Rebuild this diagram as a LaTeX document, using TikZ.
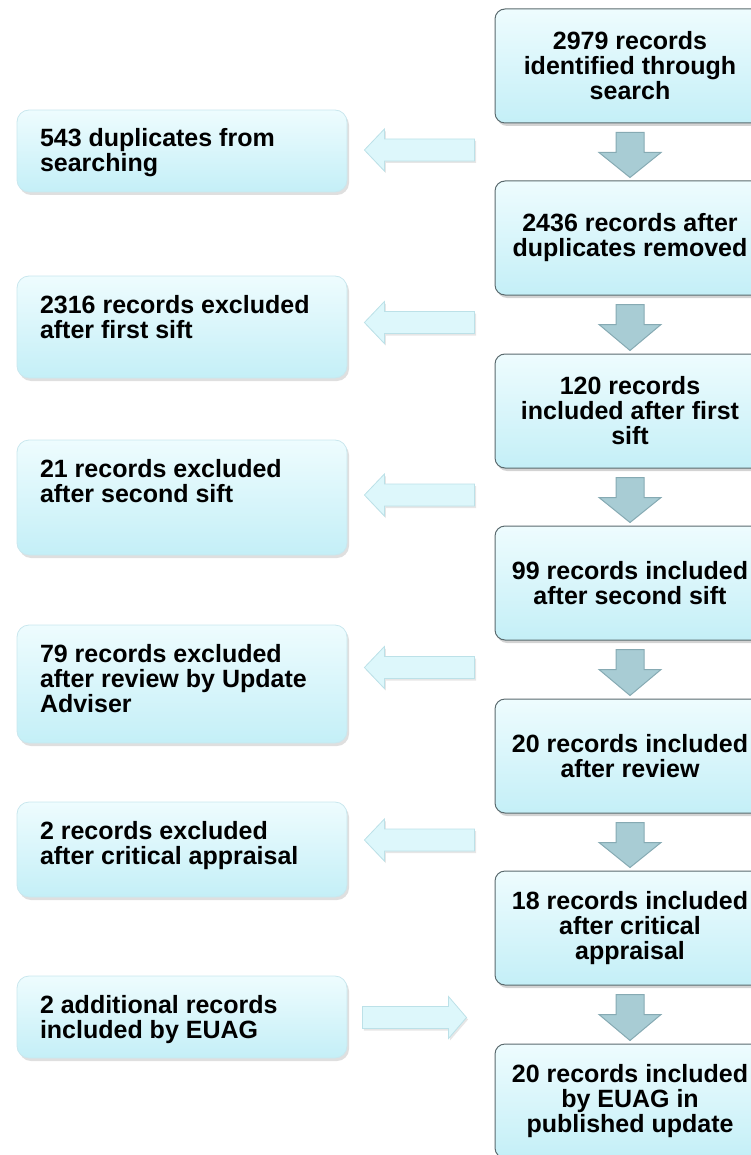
\documentclass[tikz,border=0pt]{standalone}
\usepackage{fontspec}
\setmainfont{Liberation Sans}
\usetikzlibrary{calc,shadows}
\definecolor{boxtop}{HTML}{EEFCFE}
\definecolor{boxbot}{HTML}{C4EFF7}
\definecolor{rborder}{HTML}{5A6A6E}
\definecolor{lborder}{HTML}{C9E7EE}
\definecolor{darrfill}{HTML}{A8CCD4}
\definecolor{darrdraw}{HTML}{86AAB3}
\definecolor{larrfill}{HTML}{DDF7FB}
\definecolor{larrdraw}{HTML}{BCE1E8}
\tikzset{
  txt/.style={font=\fontsize{25}{25}\selectfont\bfseries},
  rbox/.style={txt, rounded corners=10pt, draw=rborder, line width=1pt,
    top color=boxtop, bottom color=boxbot, minimum width=270pt,
    minimum height=114pt, align=center, inner sep=0pt,
    drop shadow={shadow xshift=2pt,shadow yshift=-3pt,opacity=0.35}},
  lbox/.style={txt, rounded corners=12pt, draw=lborder, line width=0.8pt,
    top color=boxtop, bottom color=boxbot, minimum width=330pt,
    inner xsep=23pt, inner ysep=0pt,
    drop shadow={shadow xshift=2pt,shadow yshift=-3pt,opacity=0.25}},
  darr/.style={fill=darrfill, draw=darrdraw, line width=1pt},
  larr/.style={fill=larrfill, draw=larrdraw, line width=0.8pt,
    drop shadow={shadow xshift=1.5pt,shadow yshift=-2pt,opacity=0.2}},
}
\newcommand\ltxt[2]{\parbox[c][#1][t]{284pt}{\raggedright\rule{0pt}{37pt}#2}}
\newcommand\mkdown[2]{%
  \path[darr] ($(#1.south)+(-14,9)$) -- ($(#1.south)+(14,9)$) -- ($(#1.south)+(14,29)$)
    -- ($(#1.south)+(31,29)$) -- ($(#2.north)+(0,-3)$) -- ($(#1.south)+(-31,29)$)
    -- ($(#1.south)+(-14,29)$) -- cycle;}
\newcommand\mkleft[4]{%
  \coordinate (#4) at ($(#1.south)!0.5!(#2.north)$);
  \path[larr] let \p1=($(#4 -| #3.east)+(17,-2)$), \p2=($(#4 -| #1.west)+(-20,-2)$) in
    (\p1) -- (\x1+20pt,\y1+21pt) -- (\x1+20pt,\y1+11pt) -- (\x2,\y1+11pt)
    -- (\x2,\y1-11pt) -- (\x1+20pt,\y1-11pt) -- (\x1+20pt,\y1-21pt) -- cycle;}
\newcommand\mkright[4]{%
  \coordinate (#4) at ($(#1.south)!0.5!(#2.north)$);
  \path[larr] let \p1=($(#4 -| #1.west)+(-28,3)$), \p2=($(#4 -| #3.east)+(15,3)$) in
    (\p1) -- (\x1-18pt,\y1+21pt) -- (\x1-18pt,\y1+11pt) -- (\x2,\y1+11pt)
    -- (\x2,\y1-11pt) -- (\x1-18pt,\y1-11pt) -- (\x1-18pt,\y1-21pt) -- cycle;}
\begin{document}
\begin{tikzpicture}[x=1pt,y=-1pt]
\useasboundingbox (0,0) rectangle (751,1155);
\clip (0,0) rectangle (751,1155);
% right column
\node[rbox] (r1) at (630,66) {2979 records\\identified through\\search};
\node[rbox] (r2) at (630,238) {2436 records after\\duplicates removed};
\node[rbox] (r3) at (630,411) {120 records\\included after first\\sift};
\node[rbox] (r4) at (630,583) {99 records included\\after second sift};
\node[rbox] (r5) at (630,756) {20 records included\\after review};
\node[rbox] (r6) at (630,928) {18 records included\\after critical\\appraisal};
\node[rbox] (r7) at (630,1101) {20 records included\\by EUAG in\\published update};
% left column
\node[lbox] (l1) at (182,151) {\ltxt{82pt}{543 duplicates from\\searching}};
\node[lbox] (l2) at (182,327) {\ltxt{102pt}{2316 records excluded\\after first sift}};
\node[lbox] (l3) at (182,497.5) {\ltxt{115pt}{21 records excluded\\after second sift}};
\node[lbox] (l4) at (182,684) {\ltxt{118pt}{79 records excluded\\after review by Update\\Adviser}};
\node[lbox] (l5) at (182,849.5) {\ltxt{95pt}{2 records excluded\\after critical appraisal}};
\node[lbox] (l6) at (182,1017) {\ltxt{82pt}{2 additional records\\included by EUAG}};
% down arrows
\mkdown{r1}{r2}
\mkdown{r2}{r3}
\mkdown{r3}{r4}
\mkdown{r4}{r5}
\mkdown{r5}{r6}
\mkdown{r6}{r7}
% side arrows
\mkleft{r1}{r2}{l1}{g1}
\mkleft{r2}{r3}{l2}{g2}
\mkleft{r3}{r4}{l3}{g3}
\mkleft{r4}{r5}{l4}{g4}
\mkleft{r5}{r6}{l5}{g5}
\mkright{r6}{r7}{l6}{g6}
\end{tikzpicture}
\end{document}
